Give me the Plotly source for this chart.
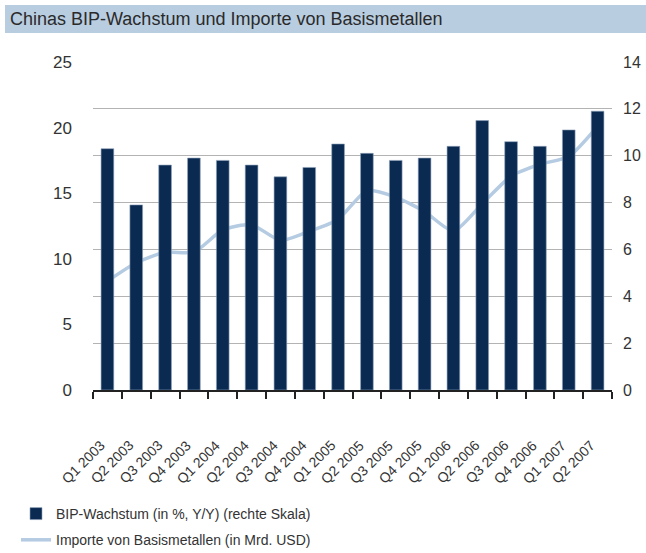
import plotly.graph_objects as go

categories = ["Q1 2003", "Q2 2003", "Q3 2003", "Q4 2003",
              "Q1 2004", "Q2 2004", "Q3 2004", "Q4 2004",
              "Q1 2005", "Q2 2005", "Q3 2005", "Q4 2005",
              "Q1 2006", "Q2 2006", "Q3 2006", "Q4 2006",
              "Q1 2007", "Q2 2007"]
gdp_growth = [10.3, 7.9, 9.6, 9.9, 9.8, 9.6, 9.1, 9.5, 10.5,
              10.1, 9.8, 9.9, 10.4, 11.5, 10.6, 10.4, 11.1, 11.9]
metal_imports = [8.3, 9.7, 10.5, 10.5, 12.2, 12.6, 11.4, 12.1, 13.0,
                 15.2, 14.7, 13.6, 12.1, 14.2, 16.3, 17.2, 17.8, 20.1]
left_ticks = [0, 5, 10, 15, 20, 25]
right_ticks = [0, 2, 4, 6, 8, 10, 12, 14]

FONT = "Liberation Sans, Arial, sans-serif"
TXT = "#333333"

fig = go.Figure()
fig.add_trace(go.Bar(
    x=categories, y=gdp_growth, yaxis="y2",
    name="BIP-Wachstum (in %, Y/Y) (rechte Skala)", legendgroup="a",
    marker=dict(color="#0b2a52", line=dict(color="#8fa3bb", width=0.6)),
))
fig.add_trace(go.Scatter(
    x=categories, y=metal_imports, yaxis="y", legendgroup="b",
    mode="lines", line=dict(color="#b4cbe2", width=3.5, shape="spline", smoothing=0.6),
    name="Importe von Basismetallen (in Mrd. USD)",
))

fig.update_layout(
    width=646, height=553,
    margin=dict(l=93, r=34, t=62, b=163, autoexpand=False),
    paper_bgcolor="white", plot_bgcolor="white",
    font=dict(family=FONT, color=TXT, size=16),
    bargap=0.56,
    showlegend=True,
    legend=dict(orientation="v", x=(16 - 93) / 519, xanchor="left",
                y=(390 - 498) / 328, yanchor="top",
                font=dict(size=14, color=TXT, family=FONT), itemwidth=30,
                tracegroupgap=5, bgcolor="rgba(0,0,0,0)"),
    xaxis=dict(type="category", showline=True, linecolor="#222", linewidth=1.5,
               ticks="outside", tickson="boundaries", ticklen=7, tickcolor="#222",
               tickwidth=1.5, showticklabels=False, automargin=False,
               showgrid=False, range=[-0.5, len(categories) - 0.5]),
    yaxis=dict(range=[0, 25], tickvals=left_ticks, showgrid=False, zeroline=False,
               ticks="", tickfont=dict(size=17, color=TXT), ticklabelstandoff=20,
               automargin=False),
    yaxis2=dict(range=[0, 14], tickvals=right_ticks, overlaying="y", side="right",
                showgrid=True, gridcolor="#b3b3b3", gridwidth=1, zeroline=False,
                ticks="", tickfont=dict(size=16, color=TXT), ticklabelstandoff=10,
                automargin=False),
)

# rotated category labels placed well below the axis, as in the reference
for cat in categories:
    fig.add_annotation(text=cat, xref="x", x=cat, yref="paper", y=-44 / 328,
                       xanchor="right", yanchor="top", xshift=3, textangle=-45,
                       showarrow=False, font=dict(size=14, color=TXT, family=FONT))

fig.add_shape(type="rect", xref="paper", yref="paper",
              x0=(5 - 93) / 519, x1=(646 - 93) / 519,
              y0=(390 - 33) / 328, y1=(390 - 5) / 328,
              fillcolor="#b9cde1", line=dict(width=0), layer="below")
fig.add_annotation(text="Chinas BIP-Wachstum und Importe von Basismetallen",
                   xref="paper", yref="paper", x=(8 - 93) / 519, y=(390 - 19) / 328,
                   xanchor="left", yanchor="middle", showarrow=False,
                   font=dict(size=18, color="#2a2a2a", family=FONT))

fig.write_html("out.html", config={"displayModeBar": False},
               post_script="document.body.style.margin='0';")
